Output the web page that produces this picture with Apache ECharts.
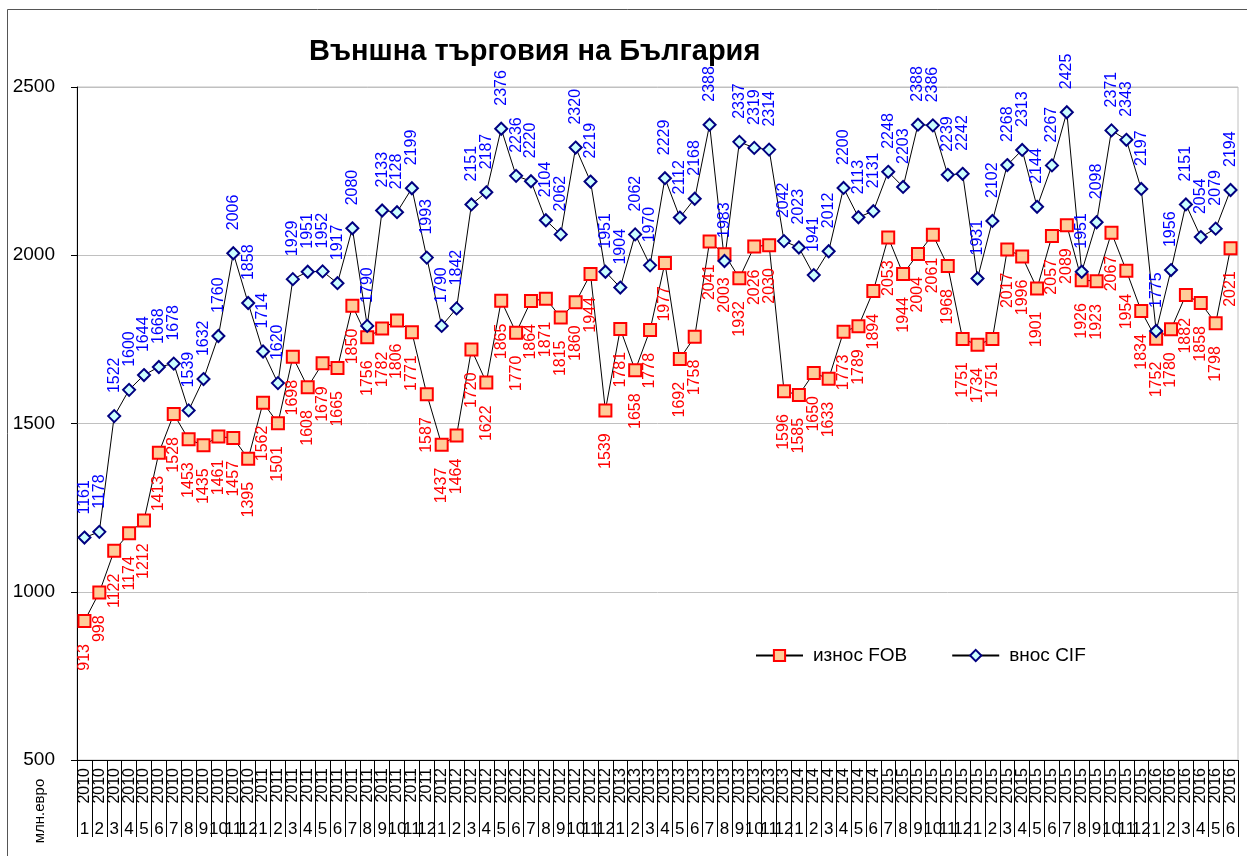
<!DOCTYPE html>
<html>
<head>
<meta charset="utf-8">
<script src="https://cdn.jsdelivr.net/npm/echarts@6/dist/echarts.min.js"></script>
<style>
html,body{margin:0;padding:0;background:#fff;}
#chart{width:1247px;height:856px;}
</style>
</head>
<body>
<div id="chart"></div>
<script>
// Year labels as printed on the original axis
const yearLabels = [
  '2010','2010','2010','2010','2010','2010','2010','2010','2010','2010','2010','2010',
  '2011','2011','2011','2011','2011','2011','2011','2011','2011','2011','2011','2011',
  '2012','2012','2012','2012','2012','2012','2012','2012','2012','2012','2012','2012',
  '2013','2013','2013','2013','2013','2013','2013','2013','2013','2013','2013','2013',
  '2014','2014','2014','2014','2014','2014','2015','2015','2015','2015','2015','2015',
  '2015','2015','2015','2015','2015','2015','2015','2015','2015','2015','2015','2015',
  '2016','2016','2016','2016','2016','2016'
];
const monthLabels = [
  '1','2','3','4','5','6','7','8','9','10','11','12',
  '1','2','3','4','5','6','7','8','9','10','11','12',
  '1','2','3','4','5','6','7','8','9','10','11','12',
  '1','2','3','4','5','6','7','8','9','10','11','12',
  '1','2','3','4','5','6','7','8','9','10','11','12',
  '1','2','3','4','5','6','7','8','9','10','11','12',
  '1','2','3','4','5','6'
];
// износ FOB
const exportFOB = [
  913, 998, 1122, 1174, 1212, 1413, 1528, 1453, 1435, 1461, 1457, 1395,
  1562, 1501, 1698, 1608, 1679, 1665, 1850, 1756, 1782, 1806, 1771, 1587,
  1437, 1464, 1720, 1622, 1865, 1770, 1864, 1871, 1815, 1860, 1944, 1539,
  1781, 1658, 1778, 1977, 1692, 1758, 2041, 2003, 1932, 2026, 2030, 1596,
  1585, 1650, 1633, 1773, 1789, 1894, 2053, 1944, 2004, 2061, 1968, 1751,
  1734, 1751, 2017, 1996, 1901, 2057, 2089, 1926, 1923, 2067, 1954, 1834,
  1752, 1780, 1882, 1858, 1798, 2021
];
// внос CIF
const importCIF = [
  1161, 1178, 1522, 1600, 1644, 1668, 1678, 1539, 1632, 1760, 2006, 1858,
  1714, 1620, 1929, 1951, 1952, 1917, 2080, 1790, 2133, 2128, 2199, 1993,
  1790, 1842, 2151, 2187, 2376, 2236, 2220, 2104, 2062, 2320, 2219, 1951,
  1904, 2062, 1970, 2229, 2112, 2168, 2388, 1983, 2337, 2319, 2314, 2042,
  2023, 1941, 2012, 2200, 2113, 2131, 2248, 2203, 2388, 2386, 2239, 2242,
  1931, 2102, 2268, 2313, 2144, 2267, 2425, 1951, 2098, 2371, 2343, 2197,
  1775, 1956, 2151, 2054, 2079, 2194
];
const seriesNames = ['износ FOB', 'внос CIF'];
const titleText = 'Външна търговия на България';
const unitText = 'млн.евро';

const FONT = '"Liberation Sans", Arial, sans-serif';
const chart = echarts.init(document.getElementById('chart'), null, {renderer: 'canvas'});

chart.setOption({
  animation: false,
  backgroundColor: '#fff',
  textStyle: {fontFamily: FONT},
  title: {
    text: titleText,
    left: 304, top: 32,
    textStyle: {fontFamily: FONT, fontSize: 29, fontWeight: 'bold', color: '#000'}
  },
  graphic: [
    {type: 'rect', z: -1, shape: {x: 7.5, y: 9.5, width: 1300, height: 900},
     style: {fill: 'none', stroke: '#555', lineWidth: 1}},
    {type: 'text', x: 40, y: 811, rotation: Math.PI / 2,
     style: {text: unitText, font: '15px ' + FONT, fill: '#000', align: 'center', verticalAlign: 'middle'}}
  ],
  legend: {
    left: 750, top: 641,
    itemWidth: 47, itemHeight: 14, itemGap: 44,
    textStyle: {fontFamily: FONT, fontSize: 19, color: '#000', padding: [0, 0, 0, 5]},
    data: seriesNames
  },
  grid: {left: 77, right: 9, top: 87, bottom: 96, show: true, borderColor: '#c0c0c0', borderWidth: 1},
  xAxis: [
    {
      type: 'category', data: yearLabels, boundaryGap: true, position: 'bottom',
      axisLine: {lineStyle: {color: '#000', width: 1}},
      axisTick: {show: true, interval: 0, length: 77, lineStyle: {color: '#000', width: 1}},
      axisLabel: {interval: 0, rotate: 90, fontSize: 16, color: '#000', margin: 8, fontFamily: FONT}
    },
    {
      type: 'category', data: monthLabels, boundaryGap: true, position: 'bottom',
      axisLine: {show: false}, axisTick: {show: false},
      axisLabel: {interval: 0, fontSize: 17, color: '#000', margin: 61, fontFamily: FONT}
    }
  ],
  yAxis: {
    type: 'value', min: 500, max: 2500, interval: 500,
    axisLine: {show: true, lineStyle: {color: '#000', width: 1}},
    axisTick: {show: true, length: 6, lineStyle: {color: '#000'}},
    axisLabel: {fontSize: 19, color: '#000', margin: 22, fontFamily: FONT,
                formatter: function (v) { return String(v); }},
    splitLine: {show: true, lineStyle: {color: '#c0c0c0', width: 1}}
  },
  series: [
    {
      name: seriesNames[0], type: 'line', data: exportFOB, xAxisIndex: 0,
      symbol: 'rect', symbolSize: 12, showAllSymbol: true,
      lineStyle: {color: '#000', width: 1},
      itemStyle: {color: '#FFCC99', borderColor: '#FF0000', borderWidth: 2},
      label: {show: true, position: 'bottom', distance: 16, rotate: 90, align: 'right', verticalAlign: 'middle',
              color: '#FF0000', fontSize: 16, fontFamily: FONT}
    },
    {
      name: seriesNames[1], type: 'line', data: importCIF, xAxisIndex: 0,
      symbol: 'diamond', symbolSize: 12, showAllSymbol: true,
      lineStyle: {color: '#000', width: 1},
      itemStyle: {color: '#CCFFFF', borderColor: '#000080', borderWidth: 2},
      label: {show: true, position: 'top', distance: 16, rotate: 90, align: 'left', verticalAlign: 'middle',
              color: '#0000FF', fontSize: 16, fontFamily: FONT}
    }
  ]
});
</script>
</body>
</html>
